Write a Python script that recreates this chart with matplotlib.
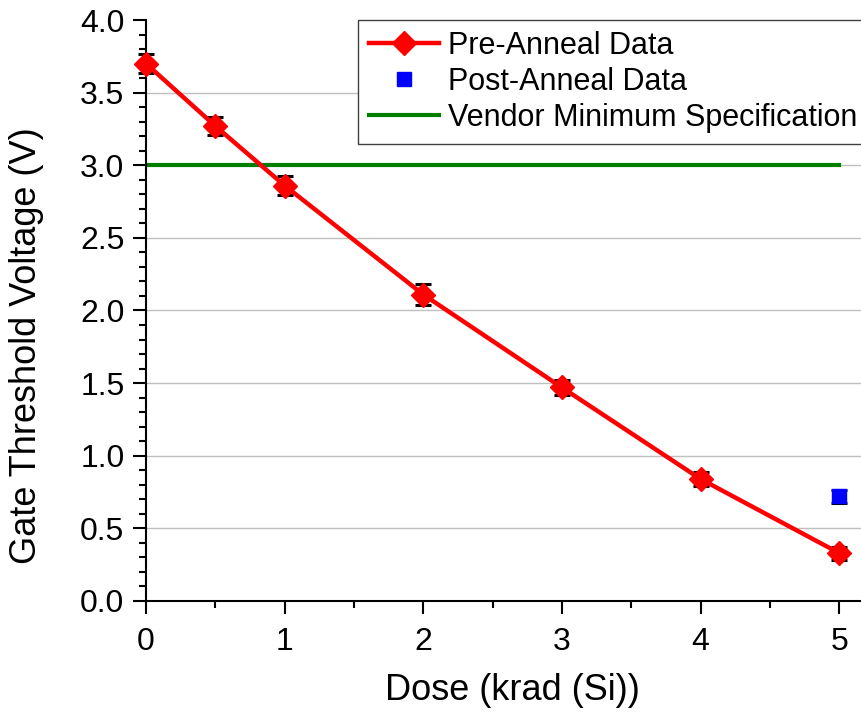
import matplotlib
matplotlib.use("Agg")
import matplotlib.pyplot as plt
from matplotlib.ticker import MultipleLocator, FormatStrFormatter

plt.rcParams['font.family'] = ['Liberation Sans', 'DejaVu Sans']

# Threshold voltage vs. total ionizing dose
dose = [0, 0.5, 1, 2, 3, 4, 5]
vth_pre = [3.70, 3.27, 2.86, 2.11, 1.47, 0.84, 0.33]
vth_pre_err = [0.065, 0.065, 0.065, 0.07, 0.05, 0.05, 0.045]

dose_post = [5]
vth_post = [0.72]
vth_post_err = [0.045]

spec_dose = [0, 5]
spec_vth = [3.0, 3.0]

fig = plt.figure(figsize=(8.62, 7.17), dpi=100)
ax = fig.add_axes([0.1694, 0.1618, 0.8306, 0.8103])

for y in [0.5, 1.0, 1.5, 2.0, 2.5, 3.0, 3.5]:
    ax.axhline(y, color='#c0c0c0', lw=1.0, zorder=0)

ax.plot(spec_dose, spec_vth, color='#007f00', lw=3.0, zorder=2,
        label='Vendor Minimum Specification')

ax.errorbar(dose, vth_pre, yerr=vth_pre_err, fmt='none', ecolor='black',
            elinewidth=1.5, capsize=6, capthick=2.2, zorder=3, clip_on=False)
ax.plot(dose, vth_pre, color='#ff0000', lw=3.2, marker='D', markersize=12,
        markerfacecolor='#ff0000', markeredgecolor='#ff0000', zorder=4,
        clip_on=False, label='Pre-Anneal Data')

ax.errorbar(dose_post, vth_post, yerr=vth_post_err, fmt='none', ecolor='black',
            elinewidth=1.5, capsize=6, capthick=2.2, zorder=3)
ax.plot(dose_post, vth_post, linestyle='none', marker='s', markersize=9.5,
        color='#0000ff', zorder=4, label='Post-Anneal Data')

ax.set_xlim(0, 5.165)
ax.set_ylim(0, 4.0)

ax.xaxis.set_major_locator(MultipleLocator(1))
ax.xaxis.set_minor_locator(MultipleLocator(0.5))
ax.yaxis.set_major_locator(MultipleLocator(0.5))
ax.yaxis.set_minor_locator(MultipleLocator(0.1))
ax.yaxis.set_major_formatter(FormatStrFormatter('%.1f'))

ax.tick_params(axis='both', which='major', direction='out', length=9.5,
               width=1.5, labelsize=23, color='black')
ax.tick_params(axis='both', which='minor', direction='out', length=5,
               width=1.5, color='black')
ax.tick_params(axis='x', which='major', pad=9)
ax.tick_params(axis='y', which='major', pad=6)

for side in ['top', 'right']:
    ax.spines[side].set_visible(False)
for side in ['left', 'bottom']:
    ax.spines[side].set_linewidth(1.5)

ax.set_xlabel('Dose (krad (Si))', fontsize=26, labelpad=12)
ax.set_ylabel('Gate Threshold Voltage (V)', fontsize=26, labelpad=26)
ax.xaxis.label.set_x(0.512)
ax.yaxis.label.set_y(0.439)

handles, labels = ax.get_legend_handles_labels()
order = [1, 2, 0]
leg = ax.legend([handles[i] for i in order], [labels[i] for i in order],
                loc='upper left', bbox_to_anchor=(0.296, 1.0),
                fontsize=22, frameon=True, fancybox=False, framealpha=1,
                edgecolor='#404040', borderaxespad=0, borderpad=0.35,
                handlelength=2.3, handletextpad=0.3, labelspacing=0.2,
                numpoints=1)
leg.get_frame().set_linewidth(1.0)

fig.savefig('out.png', dpi=100)
